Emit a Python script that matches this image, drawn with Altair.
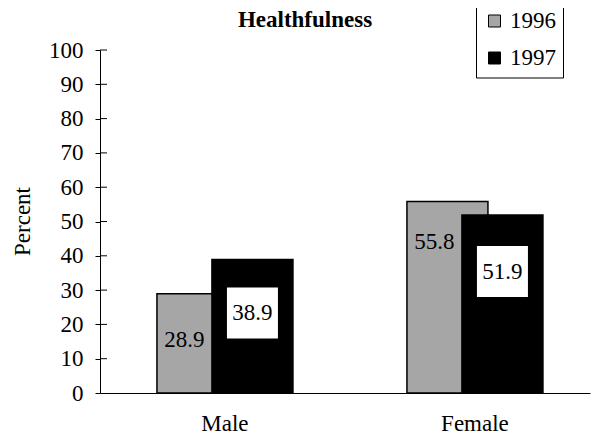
import altair as alt
import pandas as pd

chart_title = "Healthfulness"
categories = ["Male", "Female"]
years = ["1996", "1997"]
values_1996 = [28.9, 55.8]
values_1997 = [38.9, 51.9]
label_pos_1996 = [15.5, 44.0]
label_pos_1997 = [23.3, 35.4]
y_ticks = [0, 10, 20, 30, 40, 50, 60, 70, 80, 90, 100]

rows = []
for yr, vals, lp in [("1996", values_1996, label_pos_1996), ("1997", values_1997, label_pos_1997)]:
    for c, v, p in zip(categories, vals, lp):
        rows.append({"group": c, "year": yr, "value": v, "labelpos": p, "label": f"{v:.1f}"})
df = pd.DataFrame(rows)
ticks_df = pd.DataFrame({"t": [t for t in y_ticks if t > 0]})
title_df = pd.DataFrame({"title": [chart_title]})

FONT = "Liberation Serif"

x_axis = alt.Axis(title=None, ticks=False, tickSize=0, labelPadding=37, labelAngle=0,
                  labelBaseline="alphabetic", domainColor="black", domainWidth=1.2,
                  labelFont=FONT, labelFontSize=23, labelColor="black")
x_scale = alt.Scale(paddingInner=0.56, paddingOuter=0.26, align=0.538, round=False)
x_enc = alt.X("group:N", sort=categories, scale=x_scale, axis=x_axis)
xo_enc = alt.XOffset("year:N", sort=years, scale=alt.Scale(paddingInner=0, paddingOuter=0))
y_scale = alt.Scale(domain=[0, 100], nice=False, zero=True)
y_axis = alt.Axis(title="Percent", values=y_ticks, tickSize=5, labelPadding=12,
                  labelOverlap=False, labelFont=FONT, labelFontSize=23,
                  labelColor="black", labelBound=False,
                  grid=False, domainColor="black", tickColor="black",
                  titleFont=FONT, titleFontSize=23, titleColor="black",
                  titleAngle=-90, titleX=-78, titleY=171, titleBaseline="middle",
                  titleAlign="center", titleFontWeight="normal")

bars = alt.Chart(df).mark_bar(width=81, stroke="black", strokeWidth=1.5).encode(
    x=x_enc,
    xOffset=xo_enc,
    y=alt.Y("value:Q", scale=y_scale, axis=y_axis),
    color=alt.Color("year:N", sort=years,
                    scale=alt.Scale(domain=years, range=["#a6a6a6", "#000000"]),
                    legend=alt.Legend(title=None, orient="none", legendX=376, legendY=-47.5,
                                      direction="vertical", symbolType="square", symbolSize=144,
                                      symbolStrokeColor="black", symbolStrokeWidth=1,
                                      symbolOpacity=1,
                                      labelFont=FONT, labelFontSize=23, labelColor="black",
                                      labelOffset=4, rowPadding=13, padding=7,
                                      strokeColor="black", fillColor="white")),
    order=alt.Order("year:N"),
)

inner_ticks = alt.Chart(ticks_df).mark_rule(color="black", strokeWidth=1).encode(
    y=alt.Y("t:Q", scale=y_scale, axis=y_axis),
    x=alt.value(0),
    x2=alt.value(7),
)

df96 = df[df["year"] == "1996"]
df97 = df[df["year"] == "1997"]

text96 = alt.Chart(df96).mark_text(font=FONT, fontSize=23, color="black", dx=-13,
                                   baseline="middle", align="center").encode(
    x=x_enc, xOffset=xo_enc, y=alt.Y("labelpos:Q", scale=y_scale, axis=y_axis), text="label:N",
)

boxes97 = alt.Chart(df97).mark_square(size=2600, color="white", opacity=1, filled=True).encode(
    x=x_enc, xOffset=xo_enc, y=alt.Y("labelpos:Q", scale=y_scale, axis=y_axis),
)

text97 = alt.Chart(df97).mark_text(font=FONT, fontSize=23, color="black",
                                   baseline="middle", align="center").encode(
    x=x_enc, xOffset=xo_enc, y=alt.Y("labelpos:Q", scale=y_scale, axis=y_axis), text="label:N",
)

title_mark = alt.Chart(title_df).mark_text(font=FONT, fontSize=23, fontWeight="bold",
                                           color="black", align="center",
                                           baseline="alphabetic").encode(
    text="title:N", x=alt.value(205), y=alt.value(-23),
)

chart = alt.layer(bars, inner_ticks, text96, boxes97, text97, title_mark).properties(
    width=490,
    height=343,
    background="white",
    autosize=alt.AutoSizeParams(type="none"),
    padding={"left": 92, "top": 42, "right": 2, "bottom": 41},
).configure_view(strokeWidth=0).configure_axisY(labelOverlap=False)

chart.save("out.html", embed_options={"renderer": "svg", "actions": False})
